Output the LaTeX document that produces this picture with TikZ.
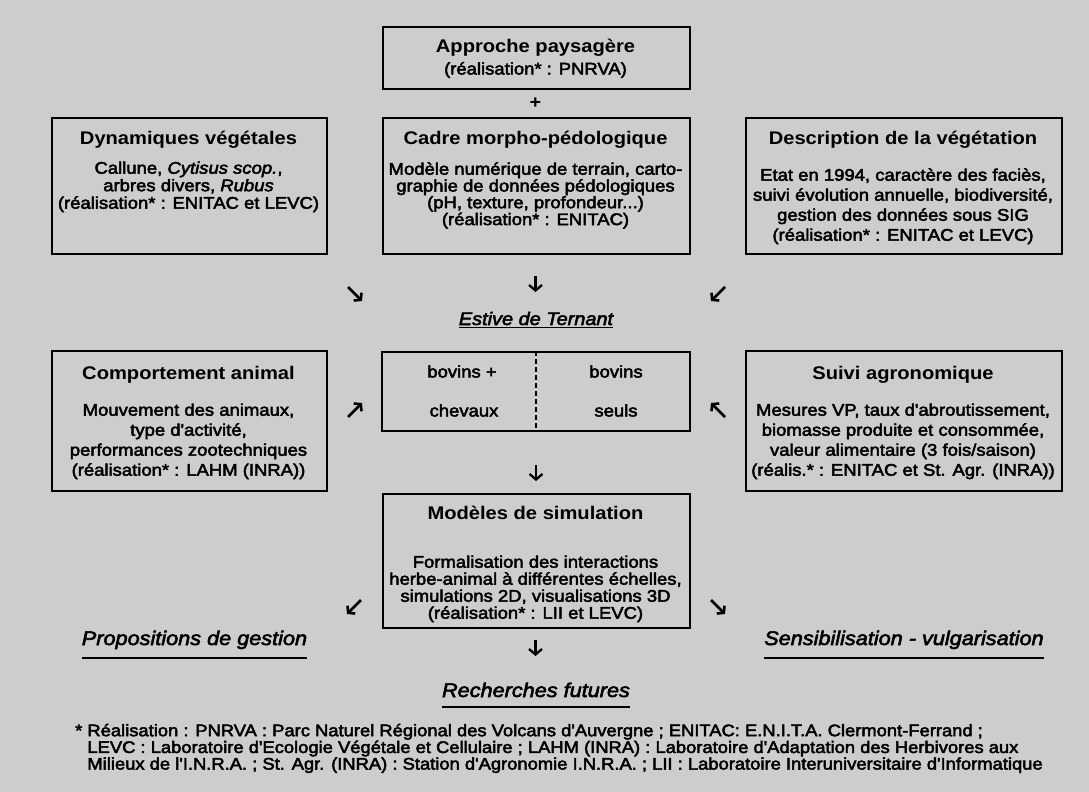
\documentclass[tikz,border=0pt]{standalone}
\usepackage{fontspec}
\setmainfont{Liberation Sans}
\newfontfamily\titlef{Liberation Sans}[FakeStretch=1.1]
\newfontfamily\bodyf{Liberation Sans}[FakeStretch=1.1,FakeBold=2.8]
\usetikzlibrary{arrows.meta}
\definecolor{bg}{RGB}{205,205,205}
\newcommand\fl{\rule{0pt}{12.5pt}}
\tikzset{
  box/.style={draw=black, line width=1.7pt, anchor=north west, inner sep=0pt},
  ttl/.style={anchor=base, inner sep=0pt, font=\titlef\bfseries\fontsize{18.3}{20}\selectfont},
  bodytxt/.style={anchor=north, inner sep=0pt, align=center, font=\bodyf\fontsize{16.8}{#1}\selectfont},
  line/.style={anchor=base, inner sep=0pt, font=\bodyf\fontsize{16.8}{18}\selectfont},
  lab/.style={anchor=base, inner sep=0pt, font=\bodyf\itshape\fontsize{19.7}{22}\selectfont},
  uline/.style={line width=1.4pt},
  arr/.style={line width=2.6pt, -{Straight Barb[length=4.5pt,width=11pt]}},
  darr/.style={line width=2.3pt, -{Straight Barb[length=5.5pt,width=13pt]}},
  sep/.style={line width=1.6pt, dash pattern=on 5pt off 3pt}
}
\begin{document}
\begin{tikzpicture}[x=1pt,y=-1pt]
\fill[bg] (0,0) rectangle (1089,792);
\useasboundingbox (0,0) rectangle (1089,792);

% boxes
\node[box, minimum width=307pt, minimum height=62pt] (approche) at (382,26) {};
\node[box, minimum width=275pt, minimum height=136pt] (dyn) at (51,117) {};
\node[box, minimum width=307pt, minimum height=136pt] (cadre) at (382,117) {};
\node[box, minimum width=316pt, minimum height=136pt] (desc) at (745,117) {};
\node[box, minimum width=275pt, minimum height=140pt] (comp) at (51,350) {};
\node[box, minimum width=308pt, minimum height=79pt] (mid) at (381,351) {};
\node[box, minimum width=316pt, minimum height=140pt] (suivi) at (745,350) {};
\node[box, minimum width=307pt, minimum height=134pt] (mod) at (382,493) {};

% Approche
\node[ttl] (approcheT) at (535.5,52.5) {Approche paysagère};
\node[line] (approcheB) at (535.5,74.5) {(réalisation* : PNRVA)};
\node[font=\titlef\bfseries\fontsize{18}{20}\selectfont, inner sep=0pt] (plus) at (535.5,103) {+};

% Dynamiques
\node[ttl] (dynT) at (188.5,144.5) {Dynamiques végétales};
\node[bodytxt=17.5] (dynB) at (188.5,161) {\fl Callune, \textit{Cytisus scop.},\\arbres divers, \textit{Rubus}\\(réalisation* : ENITAC et LEVC)};

% Cadre
\node[ttl] (cadreT) at (535.5,144.5) {Cadre morpho-pédologique};
\node[bodytxt=15.5] (cadreB) at (535.5,162) {\fl Modèle numérique de terrain, carto-\\graphie de données pédologiques\\(pH, texture, profondeur...)\\(réalisation* : ENITAC)};

% Description
\node[ttl] (descT) at (903,144.5) {Description de la végétation};
\node[bodytxt=20] (descB) at (903,168) {\fl Etat en 1994, caractère des faciès,\\suivi évolution annuelle, biodiversité,\\gestion des données sous SIG\\(réalisation* : ENITAC et LEVC)};

% Estive
\node[anchor=base, inner sep=0pt, font=\bodyf\itshape\fontsize{18.1}{20}\selectfont] (estive) at (536,325) {Estive de Ternant};
\draw[line width=1.3pt] ([yshift=-2.5pt]estive.base west) -- ([yshift=-2.5pt]estive.base east);

% Comportement
\node[ttl] (compT) at (188.5,379.5) {Comportement animal};
\node[bodytxt=20] (compB) at (188.5,403) {\fl Mouvement des animaux,\\type d'activité,\\performances zootechniques\\(réalisation* : LAHM (INRA))};

% middle
\draw[sep] (mid.north) -- (mid.south);
\node[line] (bovA) at (462,377.5) {bovins +};
\node[line] (chev) at (464,416.5) {chevaux};
\node[line] (bovB) at (616,377.5) {bovins};
\node[line] (seuls) at (616,416.5) {seuls};

% Suivi
\node[ttl] (suiviT) at (903,379.5) {Suivi agronomique};
\node[bodytxt=20] (suiviB) at (903,403) {\fl Mesures VP, taux d'abroutissement,\\biomasse produite et consommée,\\valeur alimentaire (3 fois/saison)\\(réalis.* : ENITAC et St. Agr. (INRA))};

% Modeles
\node[ttl] (modT) at (535.5,519.5) {Modèles de simulation};
\node[bodytxt=17] (modB) at (535.5,555) {\fl Formalisation des interactions\\herbe-animal à différentes échelles,\\simulations 2D, visualisations 3D\\(réalisation* : LII et LEVC)};

% output labels
\node[lab] (prop) at (194.5,645) {Propositions de gestion};
\draw[uline] ([yshift=-13pt]prop.base west) -- ([yshift=-13pt]prop.base east);
\node[lab] (sens) at (904,645) {Sensibilisation - vulgarisation};
\draw[uline] ([yshift=-13pt]sens.base west) -- ([yshift=-13pt]sens.base east);
\node[lab] (rech) at (536,697) {Recherches futures};
\draw[uline] ([yshift=-10pt]rech.base west) -- ([yshift=-10pt]rech.base east);

% arrows
\coordinate (d1a) at (535.5,276); \coordinate (d1b) at (535.5,292);
\draw[darr] (d1a) -- (d1b);
\coordinate (sea) at (348,287); \coordinate (seb) at (362,301);
\draw[arr] (sea) -- (seb);
\coordinate (swa) at (725,287); \coordinate (swb) at (711,301);
\draw[arr] (swa) -- (swb);
\coordinate (nea) at (348,417); \coordinate (neb) at (362,403);
\draw[arr] (nea) -- (neb);
\coordinate (nwa) at (725,417); \coordinate (nwb) at (711,403);
\draw[arr] (nwa) -- (nwb);
\coordinate (d2a) at (536,465); \coordinate (d2b) at (536,481);
\draw[darr] (d2a) -- (d2b);
\coordinate (lwa) at (361,600); \coordinate (lwb) at (347,614);
\draw[arr] (lwa) -- (lwb);
\coordinate (lea) at (711,600); \coordinate (leb) at (725,614);
\draw[arr] (lea) -- (leb);
\coordinate (d3a) at (535.5,640); \coordinate (d3b) at (535.5,656);
\draw[darr] (d3a) -- (d3b);

% footnote
\node[anchor=north west, inner sep=0pt, align=left, font=\bodyf\fontsize{16.7}{15.5}\selectfont] (foot) at (75,723.5)
 {\fl * Réalisation : PNRVA : Parc Naturel Régional des Volcans d'Auvergne ; ENITAC: E.N.I.T.A. Clermont-Ferrand ;\\
  \phantom{* }LEVC : Laboratoire d'Ecologie Végétale et Cellulaire ; LAHM (INRA) : Laboratoire d'Adaptation des Herbivores aux\\
  \phantom{* }Milieux de l'I.N.R.A. ; St. Agr. (INRA) : Station d'Agronomie I.N.R.A. ; LII : Laboratoire Interuniversitaire d'Informatique};
\end{tikzpicture}
\end{document}
